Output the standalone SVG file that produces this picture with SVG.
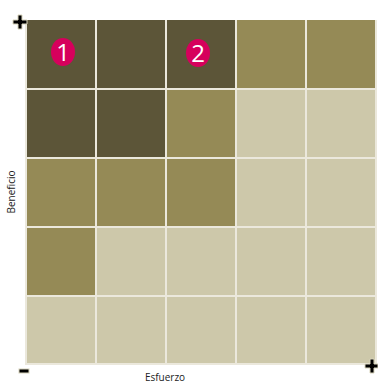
<svg xmlns="http://www.w3.org/2000/svg" width="378" height="383" viewBox="0 0 378 383">
<style>
.d{fill:#5c5538}.m{fill:#958a56}.l{fill:#cdc8aa}
.g{stroke:#ebe8dc;stroke-width:2;fill:none}
.badge{fill:#d6005c}
.bt{fill:#fff;font-family:"Open Sans","Liberation Sans",sans-serif;font-size:24px;text-anchor:middle}
.lab{font-family:"Open Sans","Liberation Sans",sans-serif;font-size:10px;fill:#222}
.sym{fill:#000;stroke:#d8d4bc;stroke-width:1}
</style>
<rect width="378" height="383" fill="#fff"/>
<g id="grid">
<rect class="d" x="26" y="20" width="70" height="69"/><rect class="d" x="96" y="20" width="70" height="69"/><rect class="d" x="166" y="20" width="70" height="69"/><rect class="m" x="236" y="20" width="70" height="69"/><rect class="m" x="306" y="20" width="69" height="69"/>
<rect class="d" x="26" y="89" width="70" height="69"/><rect class="d" x="96" y="89" width="70" height="69"/><rect class="m" x="166" y="89" width="70" height="69"/><rect class="l" x="236" y="89" width="70" height="69"/><rect class="l" x="306" y="89" width="69" height="69"/>
<rect class="m" x="26" y="158" width="70" height="69"/><rect class="m" x="96" y="158" width="70" height="69"/><rect class="m" x="166" y="158" width="70" height="69"/><rect class="l" x="236" y="158" width="70" height="69"/><rect class="l" x="306" y="158" width="69" height="69"/>
<rect class="m" x="26" y="227" width="70" height="69"/><rect class="l" x="96" y="227" width="70" height="69"/><rect class="l" x="166" y="227" width="70" height="69"/><rect class="l" x="236" y="227" width="70" height="69"/><rect class="l" x="306" y="227" width="69" height="69"/>
<rect class="l" x="26" y="296" width="70" height="68"/><rect class="l" x="96" y="296" width="70" height="68"/><rect class="l" x="166" y="296" width="70" height="68"/><rect class="l" x="236" y="296" width="70" height="68"/><rect class="l" x="306" y="296" width="69" height="68"/>
<path class="g" d="M26 20V365M96 20V365M166 20V365M236 20V365M306 20V365M376 20V365M26 89H376M26 158H376M26 227H376M26 296H376M26 364H376"/>
</g>
<g id="badge1"><ellipse class="badge" cx="63" cy="52" rx="12" ry="14"/><text class="bt" x="63" y="61">1</text></g>
<g id="badge2"><ellipse class="badge" cx="198" cy="53" rx="12" ry="14"/><text class="bt" x="198" y="62">2</text></g>
<g id="signs">
<path class="sym" d="M18 15h4v5h5v4h-5v5h-4v-5h-5v-4h5z"/>
<rect class="sym" x="19" y="369" width="10" height="4"/>
<path class="sym" d="M370 359h4v5h4v4h-4v5h-4v-5h-5v-4h5z"/>
</g>
<text class="lab" transform="translate(15,192) rotate(-90)" text-anchor="middle">Beneficio</text>
<text class="lab" x="165" y="381" text-anchor="middle">Esfuerzo</text>
</svg>
